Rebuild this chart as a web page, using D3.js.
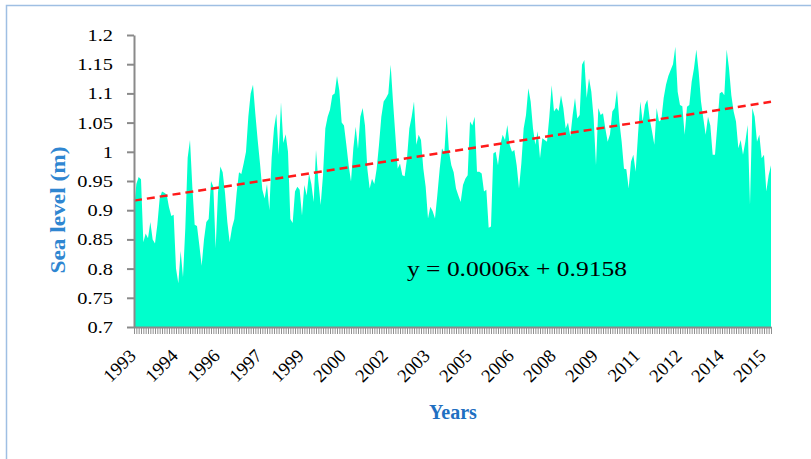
<!DOCTYPE html>
<html><head><meta charset="utf-8">
<script src="https://cdn.jsdelivr.net/npm/d3@7"></script>
<style>body{margin:0;background:#fff;} svg{display:block}</style>
</head><body>
<svg id="c" width="811" height="459"></svg>
<script>
// Monthly sea level (m), Jan 1993 onwards
const seaLevel = [
0.900,0.945,0.957,0.953,0.845,0.860,0.852,0.880,0.850,0.843,0.875,0.920,
0.932,0.930,0.927,0.905,0.890,0.892,0.800,0.775,0.830,0.785,0.870,0.990,
1.020,0.940,0.875,0.873,0.840,0.805,0.850,0.880,0.885,0.950,0.940,0.835,
0.930,0.975,0.965,0.930,0.880,0.845,0.870,0.885,0.930,0.965,0.962,0.980,
1.000,1.060,1.100,1.115,1.065,1.020,0.980,0.935,0.920,0.945,0.900,0.990,
1.040,1.065,0.995,1.085,1.015,1.030,1.000,0.885,0.878,0.932,0.940,0.935,
0.891,0.943,0.925,0.963,0.945,0.914,1.003,0.950,0.909,0.960,1.040,1.060,
1.072,1.097,1.100,1.130,1.105,1.050,1.045,1.012,0.977,0.949,1.006,1.043,
1.005,1.060,1.075,1.045,0.971,0.937,0.954,0.945,0.971,1.012,1.060,1.086,
1.092,1.100,1.149,1.086,1.029,0.971,0.980,0.960,0.958,0.989,1.040,1.060,
1.086,1.012,1.029,1.020,0.971,0.940,0.886,0.906,0.898,0.886,0.926,0.970,
1.006,0.998,1.063,1.000,0.977,0.965,0.937,0.925,0.914,0.943,0.954,0.960,
1.052,1.045,1.060,0.966,0.966,0.963,0.932,0.935,0.870,0.872,0.997,1.000,
0.977,1.012,1.029,1.020,1.046,1.012,1.000,1.003,0.977,0.937,0.980,1.040,
1.063,1.109,1.086,1.040,1.012,1.035,0.989,1.023,1.020,1.017,1.060,1.114,
1.069,1.075,1.070,1.097,1.075,1.040,1.050,1.026,1.063,1.092,1.057,1.063,
1.149,1.157,1.092,1.126,1.103,1.057,0.977,1.075,1.063,1.066,1.040,1.017,
1.030,1.069,1.075,1.106,1.052,1.017,0.971,0.970,0.937,0.983,0.995,0.966,
1.029,1.086,1.052,1.080,1.089,1.057,1.035,1.012,1.075,1.052,1.055,1.092,
1.115,1.130,1.140,1.150,1.180,1.103,1.080,1.078,1.029,1.077,1.080,1.120,
1.143,1.175,1.137,1.086,1.057,1.029,1.060,1.045,0.995,0.995,1.046,1.100,
1.103,1.097,1.175,1.143,1.097,1.069,1.052,1.006,1.020,0.995,1.017,1.046,
0.909,1.075,1.060,1.017,1.029,0.989,0.995,0.932,0.960,0.977
];
const xTickLabels = ["1993","1994","1996","1997","1999","2000","2002","2003","2005","2006","2008","2009","2011","2012","2014","2015"];
const labelStep = 18;
const yTicks = [0.7,0.75,0.8,0.85,0.9,0.95,1,1.05,1.1,1.15,1.2];
const yTickLabels = ["0.7","0.75","0.8","0.85","0.9","0.95","1","1.05","1.1","1.15","1.2"];
const trendIntercept = 0.9158, trendSlope = 0.00062;
const equationText = "y = 0.0006x + 0.9158";
const yTitle = "Sea level (m)", xTitle = "Years";

const svg = d3.select("#c");
const N = seaLevel.length;
const L = 134, R = 771, T = 35, B = 327;
const x = d3.scaleLinear().domain([0, N - 1]).range([L, R]);
const y = d3.scaleLinear().domain([0.7, 1.2]).range([B, T]);
const serif = "'Liberation Serif','Times New Roman',serif";

// outer frame
svg.append("rect").attr("x", 6.5).attr("y", 5.5).attr("width", 900).attr("height", 600)
  .attr("fill", "none").attr("stroke", "#9fbfe3").attr("stroke-width", 1.5);

// area
svg.append("path").datum(seaLevel)
  .attr("d", d3.area().x((d, i) => x(i)).y0(y(0.7)).y1(d => y(d)))
  .attr("fill", "#00ffcc");

// trend line
const trendPts = [0, N - 1].map(i => [x(i), y(trendIntercept + trendSlope * (i + 1))]);
svg.append("path").attr("d", d3.line()(trendPts))
  .attr("stroke", "#ff1a1a").attr("stroke-width", 2.5).attr("fill", "none")
  .attr("stroke-dasharray", "8,5");

// x axis (category ticks)
const gx = svg.append("g").attr("transform", `translate(0,${B})`)
  .call(d3.axisBottom(x).tickValues(d3.range(N)).tickSize(7).tickSizeOuter(0).tickFormat(""));
gx.select(".domain").attr("stroke", "#8a8a8a").attr("stroke-width", 2);
gx.selectAll(".tick line").attr("stroke", "#8f8f8f").attr("stroke-width", 1);

// y axis
const gy = svg.append("g").attr("transform", `translate(${L},0)`)
  .call(d3.axisLeft(y).tickValues(yTicks).tickSize(7).tickSizeOuter(0)
    .tickFormat((d, i) => yTickLabels[i]));
gy.select(".domain").attr("stroke", "#8a8a8a").attr("stroke-width", 2);
gy.selectAll(".tick line").attr("stroke", "#8a8a8a").attr("stroke-width", 2);
gy.selectAll(".tick text")
  .attr("font-family", serif).attr("font-size", 17).attr("fill", "#000")
  .attr("x", -17.5).attr("transform", "scale(1.2,1)");

// x labels
svg.append("g").selectAll("text").data(xTickLabels).join("text")
  .attr("transform", (d, k) => `translate(${x(k * labelStep) + 3},357) rotate(-45)`)
  .attr("text-anchor", "end")
  .attr("font-family", serif).attr("font-size", 18.5).attr("fill", "#000")
  .text(d => d);

// equation
svg.append("text").attr("x", 407).attr("y", 276)
  .attr("font-family", serif).attr("font-size", 22).attr("fill", "#000")
  .attr("textLength", 220).attr("lengthAdjust", "spacingAndGlyphs")
  .text(equationText);

// axis titles
svg.append("text").attr("transform", "translate(65,210) rotate(-90)")
  .attr("text-anchor", "middle").attr("font-family", serif).attr("font-weight", "bold")
  .attr("font-size", 20).attr("fill", "#2f86d1")
  .attr("textLength", 127).attr("lengthAdjust", "spacingAndGlyphs")
  .text(yTitle);
svg.append("text").attr("x", 453).attr("y", 419).attr("text-anchor", "middle")
  .attr("font-family", serif).attr("font-weight", "bold")
  .attr("font-size", 20).attr("fill", "#1f6fc1")
  .text(xTitle);
</script>
</body></html>
